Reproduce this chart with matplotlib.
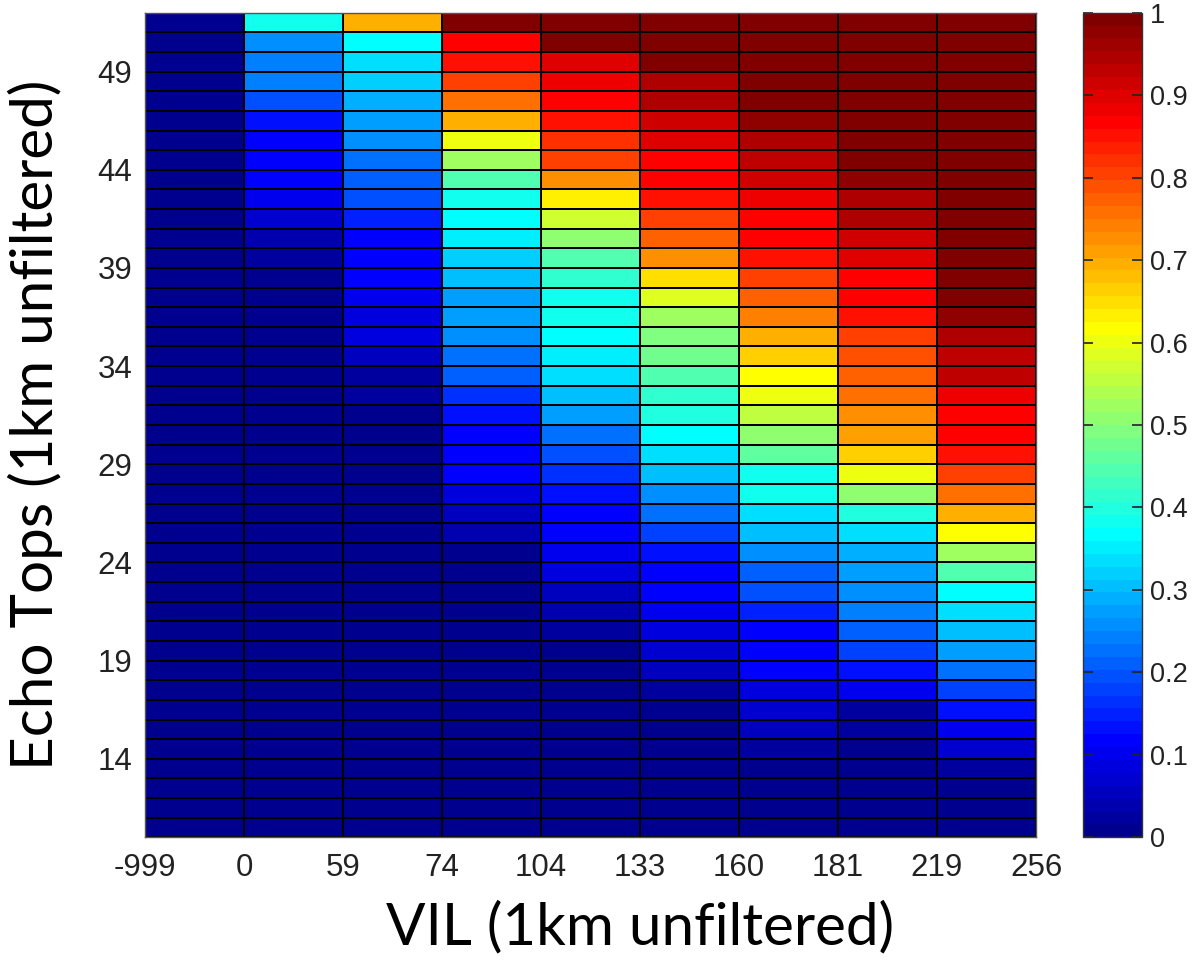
import numpy as np
import matplotlib
matplotlib.use("Agg")
import matplotlib.pyplot as plt
from matplotlib.colors import ListedColormap

# ---------------- data ----------------
vil_labels = ["-999", "0", "59", "74", "104", "133", "160", "181", "219", "256"]
echo_top_edges = [10, 11, 12, 13, 14, 15, 16, 17, 18, 19, 20, 21, 22, 23, 24, 25, 26, 27, 28, 29, 30,
                  31, 32, 33, 34, 35, 36, 37, 38, 39, 40, 41, 42, 43, 44, 45, 46, 47, 48, 49, 50, 51, 52]
echo_top_ticks = [14, 19, 24, 29, 34, 39, 44, 49]
cbar_ticks = [0, 0.1, 0.2, 0.3, 0.4, 0.5, 0.6, 0.7, 0.8, 0.9, 1]
cbar_labels = ["0", "0.1", "0.2", "0.3", "0.4", "0.5", "0.6", "0.7", "0.8", "0.9", "1"]

# values per VIL bin, listed from the top row (echo tops 51-52) down to the bottom row (10-11)
p_m999_0 = [0.0, 0.0, 0.0, 0.0, 0.0, 0.0, 0.0, 0.0, 0.0, 0.0, 0.0, 0.0, 0.0, 0.0,
            0.0, 0.0, 0.0, 0.0, 0.0, 0.0, 0.0, 0.0, 0.0, 0.0, 0.0, 0.0, 0.0, 0.0,
            0.0, 0.0, 0.0, 0.0, 0.0, 0.0, 0.0, 0.0, 0.0, 0.0, 0.0, 0.0, 0.0, 0.0]
p_0_59 = [0.39, 0.26, 0.24, 0.235, 0.195, 0.135, 0.12, 0.12, 0.11, 0.10, 0.07, 0.04, 0.02, 0.01,
          0.005, 0.005, 0.005, 0.005, 0.005, 0.005, 0.005, 0.005, 0.005, 0.005, 0.005, 0.005, 0.005, 0.005,
          0.005, 0.005, 0.005, 0.005, 0.005, 0.005, 0.005, 0.005, 0.005, 0.005, 0.005, 0.005, 0.005, 0.005]
p_59_74 = [0.695, 0.37, 0.34, 0.32, 0.29, 0.28, 0.26, 0.23, 0.215, 0.19, 0.15, 0.12, 0.12, 0.12,
           0.095, 0.09, 0.085, 0.06, 0.03, 0.02, 0.01, 0.005, 0.005, 0.005, 0.005, 0.005, 0.005, 0.005,
           0.005, 0.005, 0.005, 0.005, 0.005, 0.005, 0.005, 0.005, 0.005, 0.005, 0.005, 0.005, 0.005, 0.005]
p_74_104 = [1.0, 0.87, 0.845, 0.8, 0.76, 0.695, 0.605, 0.52, 0.445, 0.385, 0.37, 0.35, 0.32, 0.305,
            0.28, 0.27, 0.26, 0.23, 0.215, 0.17, 0.135, 0.12, 0.12, 0.115, 0.085, 0.06, 0.035, 0.015,
            0.005, 0.005, 0.005, 0.005, 0.005, 0.005, 0.005, 0.005, 0.005, 0.005, 0.005, 0.005, 0.005, 0.005]
p_104_133 = [1.0, 0.99, 0.9, 0.885, 0.87, 0.845, 0.82, 0.8, 0.73, 0.635, 0.575, 0.51, 0.44, 0.42,
             0.39, 0.38, 0.37, 0.35, 0.335, 0.305, 0.27, 0.23, 0.195, 0.17, 0.135, 0.12, 0.115, 0.10,
             0.085, 0.055, 0.04, 0.02, 0.01, 0.005, 0.005, 0.005, 0.005, 0.005, 0.005, 0.005, 0.005, 0.005]
p_133_160 = [1.0, 0.99, 1.0, 0.95, 0.94, 0.92, 0.9, 0.87, 0.87, 0.845, 0.8, 0.775, 0.72, 0.65,
             0.585, 0.52, 0.49, 0.48, 0.445, 0.415, 0.395, 0.37, 0.34, 0.305, 0.26, 0.225, 0.18, 0.135,
             0.12, 0.115, 0.105, 0.085, 0.07, 0.05, 0.02, 0.015, 0.008, 0.005, 0.005, 0.005, 0.005, 0.005]
p_160_181 = [1.0, 0.99, 0.99, 1.0, 0.995, 0.98, 0.95, 0.93, 0.915, 0.89, 0.87, 0.87, 0.845, 0.805,
             0.775, 0.745, 0.7, 0.665, 0.62, 0.6, 0.55, 0.51, 0.455, 0.39, 0.38, 0.34, 0.305, 0.26,
             0.215, 0.19, 0.155, 0.12, 0.12, 0.115, 0.09, 0.075, 0.06, 0.025, 0.015, 0.005, 0.005, 0.005]
p_181_219 = [1.0, 0.99, 0.985, 0.985, 0.985, 0.99, 0.99, 0.99, 0.98, 0.95, 0.94, 0.92, 0.9, 0.87,
             0.87, 0.845, 0.805, 0.79, 0.775, 0.76, 0.73, 0.715, 0.665, 0.6, 0.51, 0.4, 0.34, 0.285,
             0.27, 0.26, 0.235, 0.215, 0.18, 0.125, 0.1, 0.03, 0.02, 0.015, 0.01, 0.005, 0.005, 0.005]
p_219_256 = [1.0, 0.99, 0.99, 0.99, 0.99, 0.99, 0.99, 0.99, 0.99, 0.99, 0.99, 0.99, 0.99, 0.99,
             1.0, 0.98, 0.95, 0.93, 0.925, 0.885, 0.87, 0.87, 0.845, 0.805, 0.755, 0.69, 0.61, 0.52,
             0.445, 0.37, 0.34, 0.305, 0.27, 0.23, 0.18, 0.125, 0.105, 0.065, 0.02, 0.01, 0.005, 0.005]

columns = [p_m999_0, p_0_59, p_59_74, p_74_104, p_104_133, p_133_160, p_160_181, p_181_219, p_219_256]


# ---------------- MATLAB-style jet(64) colormap ----------------
def matlab_jet(m=64):
    n = int(np.ceil(m / 4))
    u = np.concatenate([np.arange(1, n + 1) / n, np.ones(n - 1), np.arange(n, 0, -1) / n])
    g = int(np.ceil(n / 2)) - (1 if m % 4 == 1 else 0) + np.arange(1, len(u) + 1)
    r = g + n
    b = g - n
    g = g[g <= m]
    r = r[r <= m]
    b = b[b >= 1]
    J = np.zeros((m, 3))
    J[r - 1, 0] = u[:len(r)]
    J[g - 1, 1] = u[:len(g)]
    J[b - 1, 2] = u[len(u) - len(b):]
    return ListedColormap(J)


cmap = matlab_jet(64)

# ---------------- figure ----------------
W, H = 1195, 969
fig = plt.figure(figsize=(W / 100, H / 100), dpi=100)
fig.patch.set_facecolor("white")

ax_l, ax_r, ax_t, ax_b = 145, 1036, 12.7, 837.3
ax = fig.add_axes([ax_l / W, 1 - ax_b / H, (ax_r - ax_l) / W, (ax_b - ax_t) / H])

Z = np.column_stack(columns)[::-1]          # rows bottom (10) -> top (51)
x_edges = np.arange(len(vil_labels))
mesh = ax.pcolormesh(x_edges, echo_top_edges, Z, cmap=cmap, vmin=0, vmax=1,
                     edgecolors="black", linewidth=1.3)

ax.set_xlim(x_edges[0], x_edges[-1])
ax.set_ylim(echo_top_edges[0], echo_top_edges[-1])
ax.set_xticks(x_edges)
ax.set_xticklabels(vil_labels)
ax.set_yticks(echo_top_ticks)
ax.set_yticklabels([str(t) for t in echo_top_ticks])

tick_font = "Liberation Sans"
ax.tick_params(axis="x", length=0, pad=11.5, labelsize=22.5, labelcolor="#222222")
ax.tick_params(axis="y", length=0, pad=9, labelsize=22.5, labelcolor="#222222")
for lab in ax.get_xticklabels() + ax.get_yticklabels():
    lab.set_fontfamily(tick_font)
for sp in ax.spines.values():
    sp.set_color("#555555")
    sp.set_linewidth(1.0)

# axis titles
fig.text(640 / W, 1 - 928 / H, "VIL (1km unfiltered)", ha="center", va="center",
         fontsize=42, family="Lato", color="black")
fig.text(35 / W, 1 - 425 / H, "Echo Tops (1km unfiltered)", ha="center", va="center",
         rotation=90, fontsize=42, family="Lato", color="black")

# colorbar
cb_l, cb_r = 1083, 1142
cax = fig.add_axes([cb_l / W, 1 - ax_b / H, (cb_r - cb_l) / W, (ax_b - ax_t) / H])
cb = fig.colorbar(mesh, cax=cax, ticks=cbar_ticks)
cb.ax.set_yticklabels(cbar_labels)
cb.ax.tick_params(direction="in", length=7, width=1.2, left=True, right=True,
                  labelsize=19.5, pad=6, labelcolor="#222222", color="#222222")
for lab in cb.ax.get_yticklabels():
    lab.set_fontfamily(tick_font)
cb.outline.set_linewidth(1.0)
cb.outline.set_edgecolor("#333333")

fig.savefig("out.png", dpi=100)
